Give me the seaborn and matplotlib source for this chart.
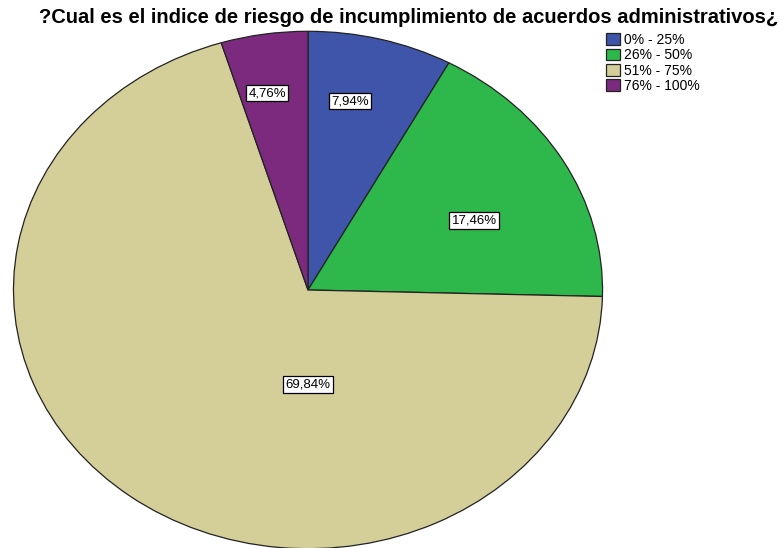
import matplotlib
matplotlib.use("Agg")
import matplotlib.pyplot as plt
import seaborn as sns

# Data
categories = ["0% - 25%", "26% - 50%", "51% - 75%", "76% - 100%"]
percentages = [7.94, 17.46, 69.84, 4.76]
colors = ["#3E55A9", "#2EB84B", "#D4CE99", "#7C2A7E"]

sns.set_theme(style="white")
plt.rcParams["font.family"] = ["Liberation Sans", "DejaVu Sans"]
plt.rcParams["text.color"] = "black"

fig = plt.figure(figsize=(7.8, 5.48), dpi=100)
# the pie is stretched into an ellipse, so the axes box defines its shape
ax = fig.add_axes([12 / 780, -2 / 548, 592 / 780, 520 / 548])

wedges, texts, autotexts = ax.pie(
    percentages,
    colors=sns.color_palette(colors),
    startangle=90,
    counterclock=False,
    autopct=lambda p: f"{p:.2f}%".replace(".", ","),
    wedgeprops=dict(edgecolor="#222222", linewidth=0.9),
    textprops=dict(fontsize=9.5, color="black"),
)
ax.set_aspect("auto")
ax.set_xlim(-1.005, 1.005)
ax.set_ylim(-1.005, 1.005)

# label positions as SPSS places them (axes data coords)
label_pos = [(0.142, 0.73), (0.564, 0.269), (0.0, -0.365), (-0.139, 0.76)]
for t, (x, y) in zip(autotexts, label_pos):
    t.set_position((x, y))
    t.set_bbox(dict(facecolor="white", edgecolor="black", linewidth=0.9, pad=1.5))

fig.text(0.524, 0.968, "?Cual es el indice de riesgo de incumplimiento de acuerdos administrativos¿",
         ha="center", va="center", fontsize=14.5, fontweight="bold", color="black")

fig.legend(wedges, categories, loc="upper left", bbox_to_anchor=(603 / 780, 1 - 30 / 548),
           frameon=False, fontsize=10, handlelength=1.0, handleheight=0.9,
           handletextpad=0.3, labelspacing=0.1, borderpad=0.2, borderaxespad=0)

fig.savefig("out.png", dpi=100)
